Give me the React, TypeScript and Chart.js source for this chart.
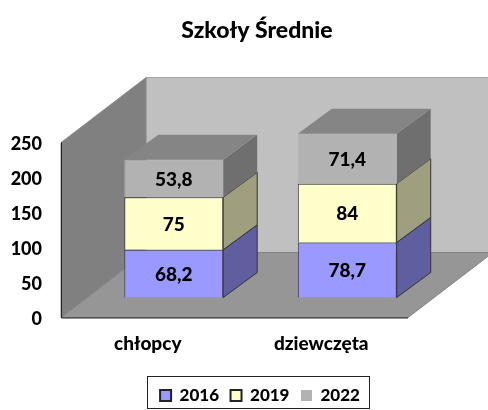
import React, { useEffect, useRef } from "react";
import { Chart, registerables } from "chart.js";

Chart.register(...registerables);

const categories = ["chłopcy", "dziewczęta"];
const years = ["2016", "2019", "2022"];
const values2016 = [68.2, 78.7];
const values2019 = [75, 84];
const values2022 = [53.8, 71.4];
const faceColors = ["#9999FF", "#FFFFCC", "#B2B2B2"];
const edgeColors = ["#333333", "#333333", "#B2B2B2"];
const legendEdges = ["#222222", "#222222", "#B2B2B2"];
const sideColors = ["#5F5F9F", "#9F9F7F", "#6F6F6F"];
const topColor = "#858585";

const FONT = "Lato, sans-serif";
const WALL_DX = 85;
const WALL_DY = 65;
const BAR_SHIFT_X = 26;
const BAR_SHIFT_Y = 20;
const BAR_DX = 34;
const BAR_DY = 25;

function poly(ctx: CanvasRenderingContext2D, pts: number[][], fill: string, stroke?: string) {
  ctx.beginPath();
  pts.forEach((p, i) => (i ? ctx.lineTo(p[0], p[1]) : ctx.moveTo(p[0], p[1])));
  ctx.closePath();
  ctx.fillStyle = fill;
  ctx.fill();
  if (stroke) {
    ctx.lineWidth = 1;
    ctx.strokeStyle = stroke;
    ctx.stroke();
  }
}

const scene3d = {
  id: "scene3d",
  afterLayout(chart: any) {
    const lg = chart.legend;
    if (lg) {
      lg.left = 139;
      lg.right = 381;
      lg.width = 242;
      lg.top = 375.5;
      lg.bottom = 408.5;
      lg.height = 33;
    }
    const tb = chart.titleBlock;
    if (tb) {
      tb.left = 26;
      tb.right = 488;
      tb.width = 462;
    }
  },
  beforeDatasetsDraw(chart: any) {
    const { ctx, chartArea: a } = chart;
    const { left: l, right: r, top: t, bottom: b } = a;
    ctx.save();
    poly(ctx, [[l + WALL_DX, t - WALL_DY], [r + WALL_DX, t - WALL_DY], [r + WALL_DX, b - WALL_DY], [l + WALL_DX, b - WALL_DY]], "#C0C0C0", "#A0A0A0");
    poly(ctx, [[l, b], [l, t], [l + WALL_DX, t - WALL_DY], [l + WALL_DX, b - WALL_DY]], "#808080", "#8C8C8C");
    poly(ctx, [[l, b], [l + WALL_DX, b - WALL_DY], [r + WALL_DX, b - WALL_DY], [r, b]], "#969696", "#808080");
    ctx.strokeStyle = "#222222";
    ctx.lineWidth = 1;
    ctx.beginPath();
    ctx.moveTo(l + 0.5, t);
    ctx.lineTo(l + 0.5, b + 0.5);
    ctx.lineTo(r, b + 0.5);
    ctx.stroke();
    ctx.restore();

    ctx.save();
    ctx.translate(BAR_SHIFT_X, -BAR_SHIFT_Y);
    const last = chart.data.datasets.length - 1;
    chart.data.datasets.forEach((_: any, di: number) => {
      chart.getDatasetMeta(di).data.forEach((el: any) => {
        const R = el.x + el.width / 2;
        const L = el.x - el.width / 2;
        const edge = di === last ? undefined : "#333333";
        poly(ctx, [[R, el.base], [R + BAR_DX, el.base - BAR_DY], [R + BAR_DX, el.y - BAR_DY], [R, el.y]], sideColors[di], edge);
        if (di === last) {
          poly(ctx, [[L, el.y], [L + BAR_DX, el.y - BAR_DY], [R + BAR_DX, el.y - BAR_DY], [R, el.y]], topColor);
        }
      });
    });
  },
  afterDatasetsDraw(chart: any) {
    const { ctx } = chart;
    ctx.fillStyle = "#000000";
    ctx.font = `900 19px ${FONT}`;
    ctx.textAlign = "center";
    ctx.textBaseline = "middle";
    chart.data.datasets.forEach((ds: any, di: number) => {
      chart.getDatasetMeta(di).data.forEach((el: any, i: number) => {
        ctx.fillText(String(ds.data[i]).replace(".", ","), el.x, (el.y + el.base) / 2 + 1);
      });
    });
    ctx.restore();
  },
  afterDraw(chart: any) {
    const { ctx } = chart;
    ctx.save();
    ctx.strokeStyle = "#222222";
    ctx.lineWidth = 1;
    ctx.strokeRect(147.5, 376.5, 222, 32);
    ctx.restore();
  },
};

export default function App() {
  const ref = useRef<HTMLCanvasElement>(null);
  useEffect(() => {
    document.body.style.margin = "0";
    const series = [values2016, values2019, values2022];
    const chart = new Chart(ref.current as HTMLCanvasElement, {
      type: "bar",
      data: {
        labels: categories,
        datasets: years.map((y, i) => ({
          label: y,
          data: series[i],
          backgroundColor: faceColors[i],
          borderColor: edgeColors[i],
          borderWidth: 1,
          clip: false as any,
          categoryPercentage: 0.57,
          barPercentage: 1,
        })),
      },
      options: {
        responsive: false,
        animation: false,
        layout: { padding: { left: 0, right: 80, top: 0, bottom: 0 } },
        scales: {
          x: {
            stacked: true,
            grid: { display: false, drawTicks: false },
            border: { display: false },
            ticks: { color: "#000", padding: 15, font: { family: FONT, size: 19, weight: 900 }, maxRotation: 0 },
            afterFit(s: any) { s.height = 54; },
          },
          y: {
            stacked: true,
            min: 0,
            max: 250,
            grid: { display: false, drawTicks: false },
            border: { display: false },
            ticks: { color: "#000", stepSize: 50, padding: 19, labelOffset: 2, font: { family: FONT, size: 18, weight: 900 } },
            afterFit(s: any) { s.width = 61; },
          },
        },
        plugins: {
          title: {
            display: true,
            text: "Szkoły Średnie",
            color: "#000",
            font: { family: FONT, size: 23, weight: 900 },
            padding: { top: 17, bottom: 98 },
          },
          legend: {
            display: true,
            position: "bottom",
            labels: {
              boxWidth: 11,
              boxHeight: 11,
              padding: 11.5,
              color: "#000",
              font: { family: FONT, size: 17, weight: 900 },
              generateLabels(chart: any) {
                return chart.data.datasets.map((ds: any, i: number) => ({
                  text: ds.label,
                  fillStyle: faceColors[i],
                  strokeStyle: legendEdges[i],
                  lineWidth: i === 2 ? 0 : 2,
                  datasetIndex: i,
                  fontColor: "#000",
                }));
              },
            },
          },
          tooltip: { enabled: false },
        },
      },
      plugins: [scene3d],
    } as any);
    return () => chart.destroy();
  }, []);
  return <canvas ref={ref} width={488} height={410} style={{ display: "block" }} />;
}
